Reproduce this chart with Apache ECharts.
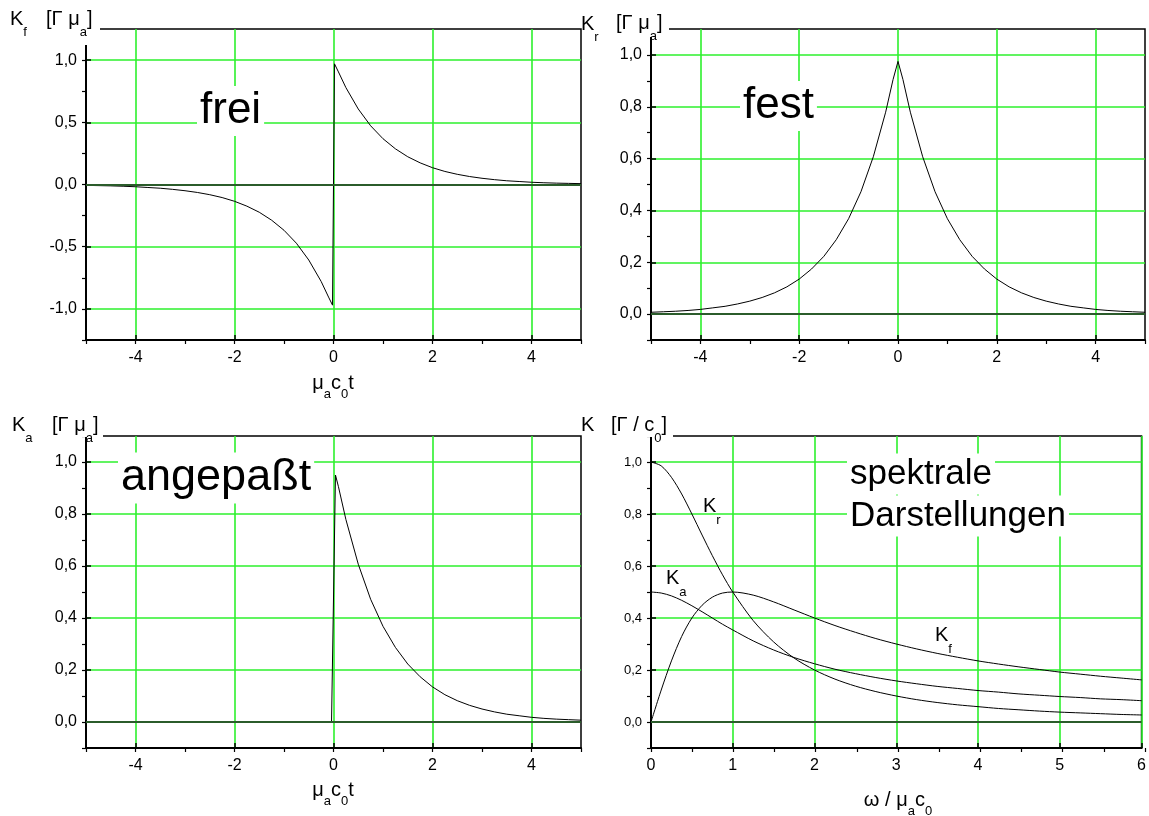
<!DOCTYPE html>
<html>
<head>
<meta charset="utf-8">
<script src="https://cdn.jsdelivr.net/npm/echarts@6/dist/echarts.min.js"></script>
<style>
  html, body { margin: 0; padding: 0; background: #fff; }
  #chart { width: 1149px; height: 816px; }
</style>
</head>
<body>
<div id="chart"></div>
<script>
// ---- time-domain responses (abscissa: mu_a c0 t) ----
// K_f, free medium: antisymmetric step at t = 0
const kfT = [-5, -4.75, -4.5, -4.25, -4, -3.75, -3.5, -3.25, -3, -2.75, -2.5, -2.25, -2, -1.75, -1.5, -1.25, -1, -0.75, -0.5, -0.25, -0.1, -0.02,
             0.02, 0.1, 0.25, 0.5, 0.75, 1, 1.25, 1.5, 1.75, 2, 2.25, 2.5, 2.75, 3, 3.25, 3.5, 3.75, 4, 4.25, 4.5, 4.75, 5];
const kfV = [-0.007, -0.009, -0.011, -0.014, -0.018, -0.024, -0.030, -0.039, -0.050, -0.064, -0.082, -0.105, -0.135, -0.174, -0.223, -0.287, -0.368, -0.472, -0.607, -0.779, -0.905, -0.97,
             0.97, 0.905, 0.779, 0.607, 0.472, 0.368, 0.287, 0.223, 0.174, 0.135, 0.105, 0.082, 0.064, 0.050, 0.039, 0.030, 0.024, 0.018, 0.014, 0.011, 0.009, 0.007];

// K_r, fixed medium: symmetric cusp
const krT = [-5, -4.75, -4.5, -4.25, -4, -3.75, -3.5, -3.25, -3, -2.75, -2.5, -2.25, -2, -1.75, -1.5, -1.25, -1, -0.75, -0.5, -0.25, -0.1,
             0, 0.1, 0.25, 0.5, 0.75, 1, 1.25, 1.5, 1.75, 2, 2.25, 2.5, 2.75, 3, 3.25, 3.5, 3.75, 4, 4.25, 4.5, 4.75, 5];
const krV = [0.007, 0.009, 0.011, 0.014, 0.018, 0.024, 0.030, 0.039, 0.050, 0.064, 0.082, 0.105, 0.135, 0.174, 0.223, 0.287, 0.368, 0.472, 0.607, 0.779, 0.905,
             0.975, 0.905, 0.779, 0.607, 0.472, 0.368, 0.287, 0.223, 0.174, 0.135, 0.105, 0.082, 0.064, 0.050, 0.039, 0.030, 0.024, 0.018, 0.014, 0.011, 0.009, 0.007];

// K_a, matched medium: causal one-sided decay
const kaT = [-5, -0.04, 0.04, 0.1, 0.25, 0.5, 0.75, 1, 1.25, 1.5, 1.75, 2, 2.25, 2.5, 2.75, 3, 3.25, 3.5, 3.75, 4, 4.25, 4.5, 4.75, 5];
const kaV = [0, 0, 0.95, 0.905, 0.779, 0.607, 0.472, 0.368, 0.287, 0.223, 0.174, 0.135, 0.105, 0.082, 0.064, 0.050, 0.039, 0.030, 0.024, 0.018, 0.014, 0.011, 0.009, 0.007];

// ---- spectra (abscissa: omega / mu_a c0) ----
const omega  = [0, 0.125, 0.25, 0.375, 0.5, 0.625, 0.75, 0.875, 1, 1.25, 1.5, 1.75, 2, 2.25, 2.5, 2.75, 3, 3.25, 3.5, 3.75, 4, 4.25, 4.5, 4.75, 5, 5.25, 5.5, 5.75, 6];
const specKr = [1, 0.985, 0.941, 0.877, 0.8, 0.719, 0.64, 0.566, 0.5, 0.390, 0.308, 0.246, 0.2, 0.165, 0.138, 0.117, 0.1, 0.086, 0.075, 0.066, 0.059, 0.052, 0.047, 0.042, 0.038, 0.035, 0.032, 0.029, 0.027];
const specKf = [0, 0.123, 0.235, 0.329, 0.4, 0.449, 0.48, 0.496, 0.5, 0.488, 0.462, 0.431, 0.4, 0.371, 0.345, 0.321, 0.3, 0.281, 0.264, 0.249, 0.235, 0.223, 0.212, 0.202, 0.192, 0.184, 0.176, 0.169, 0.162];
const specKa = [0.5, 0.496, 0.485, 0.468, 0.447, 0.424, 0.4, 0.376, 0.354, 0.312, 0.277, 0.248, 0.224, 0.203, 0.186, 0.171, 0.158, 0.147, 0.137, 0.129, 0.121, 0.115, 0.108, 0.103, 0.098, 0.094, 0.089, 0.086, 0.082];

// ---- tick definitions ----
const timeMajor = [-4, -2, 0, 2, 4];
const kfMajor = [-1, -0.5, 0, 0.5, 1];
const unitMajor = [0, 0.2, 0.4, 0.6, 0.8, 1.0];
const omegaMajor = [0, 1, 2, 3, 4, 5, 6];

const FONT = '"Liberation Sans", Arial, Helvetica, sans-serif';
const GREEN = '#2cf02c';
const ZERO = '#2b5c2b';

const boxes = [
  { left: 86,  top: 29,  width: 495, height: 311 },
  { left: 651, top: 29,  width: 494, height: 311 },
  { left: 86,  top: 436, width: 495, height: 312 },
  { left: 651, top: 436, width: 494, height: 312 }
];

// axis ranges: [min, max, minor step, major values, label size]
const panels = [
  { x: [-5, 5, 1, timeMajor, 16], y: [-1.25, 1.25, 0.25, kfMajor, 16] },
  { x: [-5, 5, 1, timeMajor, 16], y: [-0.1, 1.1, 0.1, unitMajor, 16] },
  { x: [-5, 5, 1, timeMajor, 16], y: [-0.1, 1.1, 0.1, unitMajor, 16] },
  { x: [0, 6, 0.5, omegaMajor, 16], y: [-0.1, 1.1, 0.1, unitMajor, 13] }
];

const decimal = v => v.toFixed(1).replace('.', ',').replace('-0,0', '0,0');

const grids = [], xAxes = [], yAxes = [];
boxes.forEach(b => grids.push(Object.assign({ show: true, borderColor: '#000', borderWidth: 1.5, backgroundColor: 'transparent' }, b)));
boxes.forEach(b => grids.push(Object.assign({ show: false }, b)));

function mainAxis(def, gi, isY) {
  const [min, max, step, majors, fs] = def;
  return {
    type: 'value', gridIndex: gi, min: min, max: max, interval: step,
    position: isY ? 'left' : 'bottom',
    axisLine: { show: true, onZero: false, lineStyle: { color: '#000', width: 2 } },
    axisTick: { show: true, customValues: majors, inside: true, length: 5, lineStyle: { color: '#000', width: 1.5 } },
    axisLabel: {
      show: true, customValues: majors, color: '#000', fontFamily: FONT, fontSize: fs,
      margin: isY ? 9 : 10,
      formatter: isY ? decimal : (v => String(v))
    },
    splitLine: { show: true, lineStyle: { color: GREEN, width: 1.6 } },
    minorTick: { show: false }
  };
}
function minorAxis(def, gi, isY) {
  const [min, max, step] = def;
  return {
    type: 'value', gridIndex: gi, min: min, max: max, interval: step,
    position: isY ? 'left' : 'bottom',
    axisLine: { show: false, onZero: false },
    axisTick: { show: true, inside: false, length: 4, lineStyle: { color: '#000', width: 1.2 } },
    axisLabel: { show: false },
    splitLine: { show: false }
  };
}
panels.forEach((p, i) => { xAxes.push(mainAxis(p.x, i, false)); yAxes.push(mainAxis(p.y, i, true)); });
panels.forEach((p, i) => { xAxes.push(minorAxis(p.x, i + 4, false)); yAxes.push(minorAxis(p.y, i + 4, true)); });

const pairs = (xs, ys) => xs.map((x, i) => [x, ys[i]]);
const zeroLine = {
  silent: true, symbol: 'none', label: { show: false },
  lineStyle: { color: ZERO, width: 2, type: 'solid' },
  data: [{ yAxis: 0 }]
};
function curve(gi, xs, ys, smooth, withZero) {
  const s = {
    type: 'line', xAxisIndex: gi, yAxisIndex: gi, data: pairs(xs, ys),
    showSymbol: false, smooth: smooth, lineStyle: { color: '#000', width: 1 }, z: 3
  };
  if (withZero) s.markLine = zeroLine;
  return s;
}
const series = [
  curve(0, kfT, kfV, false, true),
  curve(1, krT, krV, false, true),
  curve(2, kaT, kaV, false, true),
  curve(3, omega, specKr, 0.3, true),
  curve(3, omega, specKf, 0.3, false),
  curve(3, omega, specKa, 0.3, false)
];

// ---- text with subscripts ----
const ctx = document.createElement('canvas').getContext('2d');
function textW(s, size) { ctx.font = size + 'px ' + FONT; return ctx.measureText(s).width; }
// pieces: [text, isSubscript]
function compound(x, y, pieces, size, subSize, subDrop, align) {
  const total = pieces.reduce((w, p) => w + textW(p[0], p[1] ? subSize : size), 0);
  let cx = align === 'center' ? x - total / 2 : x;
  return pieces.map(p => {
    const s = p[1] ? subSize : size;
    const el = {
      type: 'text', z: 120,
      style: { x: cx, y: p[1] ? y + subDrop : y, text: p[0], font: s + 'px ' + FONT, fill: '#000', align: 'left', verticalAlign: 'middle' }
    };
    cx += textW(p[0], s);
    return el;
  });
}
function whiteRect(x, y, w, h) {
  return { type: 'rect', z: 110, shape: { x: x, y: y, width: w, height: h }, style: { fill: '#fff' } };
}
function boxedText(x, y, text, size) {
  return {
    type: 'text', z: 120,
    style: { x: x, y: y, text: text, font: size + 'px ' + FONT, fill: '#000', align: 'left', verticalAlign: 'middle',
             backgroundColor: '#fff', padding: [3, 3, 3, 3] }
  };
}

const graphics = [].concat(
  // unit labels of the ordinates
  [whiteRect(40, 0, 60, 45), whiteRect(612, 0, 57, 37), whiteRect(48, 400, 55, 37), whiteRect(606, 400, 67, 37)],
  compound(10, 19, [['K', 0], ['f', 1]], 20, 13, 13),
  compound(46, 19, [['[\u0393 \u03bc', 0], ['a', 1], [']', 0]], 20, 13, 13),
  compound(581, 24, [['K', 0], ['r', 1]], 20, 13, 13),
  compound(616, 23, [['[\u0393 \u03bc', 0], ['a', 1], [']', 0]], 20, 13, 13),
  compound(12, 425, [['K', 0], ['a', 1]], 20, 13, 13),
  compound(52, 425, [['[\u0393 \u03bc', 0], ['a', 1], [']', 0]], 20, 13, 13),
  compound(581, 425, [['K', 0]], 20, 13, 13),
  compound(611, 425, [['[\u0393 / c', 0], ['0', 1], [']', 0]], 20, 13, 13),
  // abscissa names
  compound(333, 383, [['\u03bc', 0], ['a', 1], ['c', 0], ['0', 1], ['t', 0]], 20, 13, 11, 'center'),
  compound(333, 790, [['\u03bc', 0], ['a', 1], ['c', 0], ['0', 1], ['t', 0]], 20, 13, 11, 'center'),
  compound(898, 800, [['\u03c9 / \u03bc', 0], ['a', 1], ['c', 0], ['0', 1]], 20, 13, 11, 'center'),
  // curve labels of the spectra
  compound(703, 506, [['K', 0], ['r', 1]], 20, 13, 14),
  compound(666, 578, [['K', 0], ['a', 1]], 20, 13, 14),
  compound(935, 635, [['K', 0], ['f', 1]], 20, 13, 14),
  // panel titles
  [boxedText(197, 111, 'frei', 44), boxedText(740, 106, 'fest', 44), boxedText(118, 478, 'angepa\u00dft', 45),
   boxedText(847, 474, 'spektrale', 35), boxedText(847, 516, 'Darstellungen', 35)]
);

const chart = echarts.init(document.getElementById('chart'), null, { renderer: 'canvas' });
chart.setOption({
  animation: false,
  backgroundColor: '#fff',
  grid: grids,
  xAxis: xAxes,
  yAxis: yAxes,
  series: series,
  graphic: { elements: graphics }
});
</script>
</body>
</html>
